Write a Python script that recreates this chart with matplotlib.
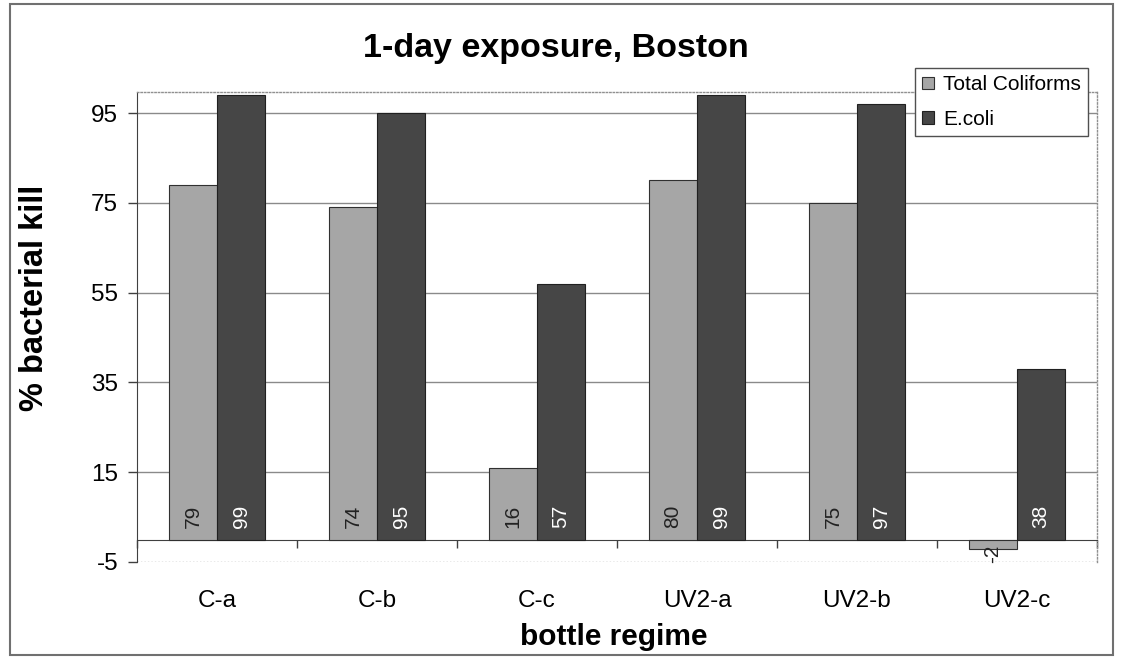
import matplotlib
matplotlib.use("Agg")
import matplotlib.pyplot as plt
import numpy as np
from matplotlib.patches import Rectangle

categories = ["C-a", "C-b", "C-c", "UV2-a", "UV2-b", "UV2-c"]
total_coliforms = [79, 74, 16, 80, 75, -2]
ecoli = [99, 95, 57, 99, 97, 38]
series_names = ["Total Coliforms", "E.coli"]
yticks = [-5, 15, 35, 55, 75, 95]

plt.rcParams['font.family'] = ['Liberation Sans', 'DejaVu Sans']
plt.rcParams['axes.unicode_minus'] = False

fig = plt.figure(figsize=(11.25, 6.62), dpi=100)
ax = fig.add_axes([137/1125, 1 - 562/662, (1097-137)/1125, (562-92)/662])

x = np.arange(len(categories))
w = 0.3
c1 = "#a6a6a6"
c2 = "#464646"
b1 = ax.bar(x - w/2, total_coliforms, w, color=c1, edgecolor="#303030", linewidth=0.8, label=series_names[0], zorder=3)
b2 = ax.bar(x + w/2, ecoli, w, color=c2, edgecolor="#202020", linewidth=0.8, label=series_names[1], zorder=3)

ax.set_xlim(-0.5, len(categories) - 0.5)
ax.set_ylim(-5, 99.7)
ax.set_yticks(yticks)
ax.tick_params(axis='y', labelsize=17.5, length=6.5, width=1, color="#404040", pad=7, direction='out')

# x axis at zero
ax.spines['bottom'].set_position(('data', 0))
ax.spines['bottom'].set_color("#404040")
ax.spines['left'].set_color("#404040")
for s in ['top', 'right']:
    ax.spines[s].set_linestyle((0, (1, 1.5)))
    ax.spines[s].set_color("#909090")
    ax.spines[s].set_linewidth(1)
ax.axhline(-5, color="#909090", linestyle=(0, (1, 1.5)), linewidth=1, zorder=1)

ax.set_xticks(x)
ax.set_xticklabels(categories)
ax.tick_params(axis='x', which='major', length=0, labelsize=17.5, pad=36)
ax.set_xticks(np.arange(len(categories) + 1) - 0.5, minor=True)
ax.tick_params(axis='x', which='minor', length=6, width=1, color="#404040", direction='out')

# grid
for t in yticks[1:]:
    ax.axhline(t, color="#8a8a8a", linewidth=1, zorder=1)

# bar labels
for bars, col in ((b1, "#222222"), (b2, "white")):
    for r in bars:
        v = r.get_height()
        cx = r.get_x() + r.get_width() / 2
        if v >= 0:
            ax.annotate(f"{v:g}", (cx, 0), xytext=(0, 8), textcoords='offset points',
                        rotation=90, ha='center', va='bottom', fontsize=15, color=col, zorder=4)
        else:
            ax.annotate(f"{v:g}", (cx, 0), xytext=(0, -4), textcoords='offset points',
                        rotation=90, ha='center', va='top', fontsize=15, color=col, zorder=4,
                        annotation_clip=False)

fig.text(556/1125, 1 - 49/662, "1-day exposure, Boston", ha='center', va='center',
         fontsize=24.5, fontweight='bold')
fig.text(614/1125, 1 - 637/662, "bottle regime", ha='center', va='center',
         fontsize=21.5, fontweight='bold')
fig.text(35/1125, 1 - 298/662, "% bacterial kill", ha='center', va='center',
         rotation=90, fontsize=23.5, fontweight='bold')

leg = fig.legend(handles=[b1, b2], labels=series_names,
                 loc='upper left', bbox_to_anchor=(915/1125, 1 - 68/662),
                 frameon=True, fancybox=False, edgecolor="#505050", framealpha=1,
                 fontsize=15, handlelength=0.55, handleheight=0.55, handletextpad=0.45,
                 borderpad=0.35, labelspacing=0.75, borderaxespad=0)
leg.get_frame().set_linewidth(1)

fig.add_artist(Rectangle((10/1125, 1 - 655/662), (1113-10)/1125, (655-4)/662,
                         transform=fig.transFigure, fill=False, edgecolor="#707070", linewidth=1.5))

fig.savefig("out.png", dpi=100)
